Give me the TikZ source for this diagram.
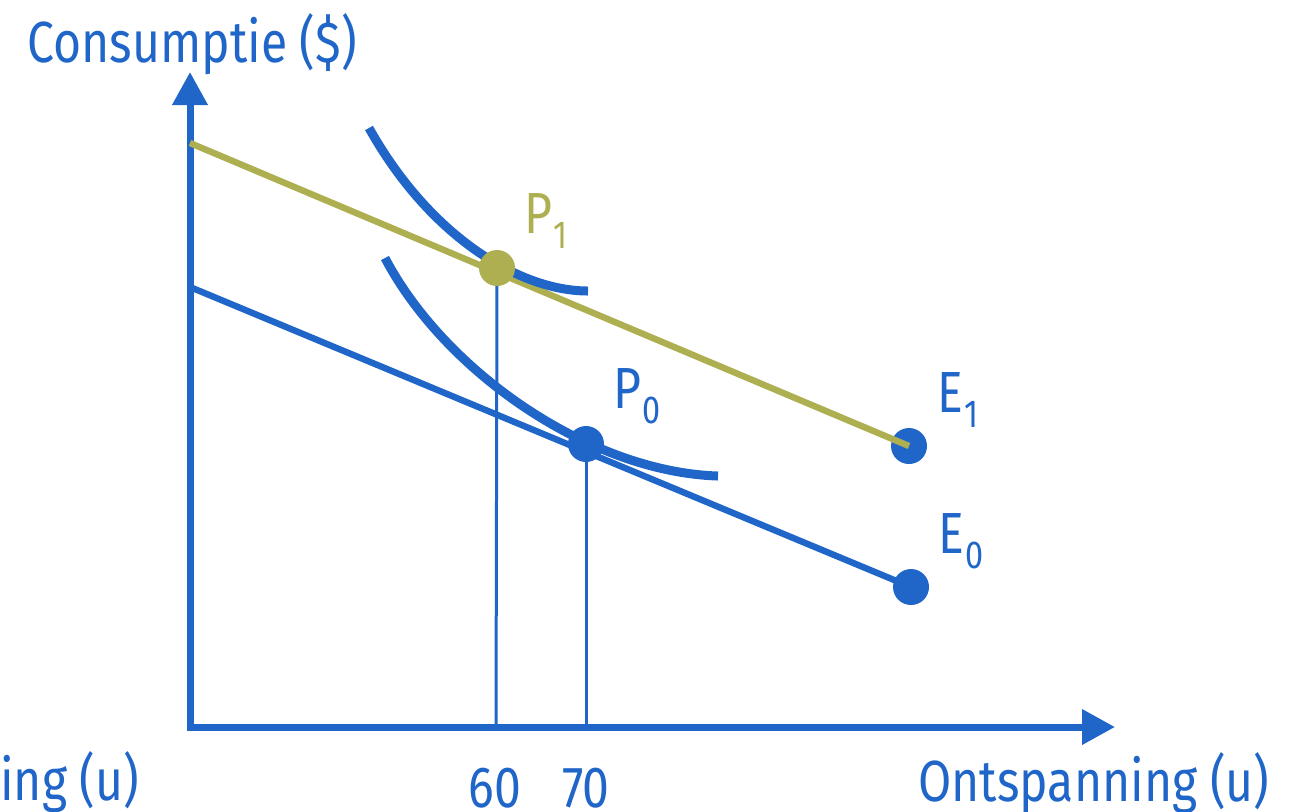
\documentclass[tikz,border=0pt]{standalone}
\usepackage{fontspec}
\setmainfont{Fira Sans}[FakeStretch=0.83]
\usetikzlibrary{arrows.meta}
\definecolor{cblue}{RGB}{32,101,200}
\definecolor{colive}{RGB}{173,175,80}
\newcommand{\lowidx}[1]{\hspace{0.5pt}\raisebox{-7.5pt}{\fontsize{19.5}{19.5}\selectfont #1}}
\tikzset{
  axis/.style={cblue, line width=3.5pt},
  budget/.style={line width=3.2pt},
  indiff/.style={cblue, line width=4.5pt},
  drop/.style={cblue, line width=1.5pt},
  dot/.style={circle, fill=#1, inner sep=0pt, minimum size=18pt},
  lbl/.style={inner sep=0pt, anchor=base west, font=\fontsize{29}{29}\selectfont, text=cblue},
}
\begin{document}
\begin{tikzpicture}[x=0.5pt,y=-0.5pt]
\useasboundingbox (0,0) rectangle (1289,811);
% coordinates
\coordinate (ytip) at (190,72);
\coordinate (origin) at (190,727);
\coordinate (xtip) at (1115,727);
\coordinate (b1) at (190,143);
\coordinate (b0) at (190,287);
\coordinate (f1) at (496,727);
\coordinate (f0) at (586,727);
% dots (positions)
\node[dot=cblue] (E1) at (909,446) {};
\node[dot=cblue] (E0) at (911,587) {};
% axes
\draw[axis, {Triangle[width=17pt,length=16.5pt]}-{Triangle[width=17pt,length=16.5pt]}] (ytip) -- (origin) -- (xtip);
% budget lines
\draw[budget, colive] (b1) -- (E1.center);
\draw[budget, cblue] (b0) -- (E0.center);
% drop lines
\draw[drop] (497,268) -- (f1);
\draw[drop] (586,444) -- (f0);
% indifference curves
\draw[indiff] (369,128) .. controls (430,237) and (520,291) .. (588,291);
\draw[indiff] (385,258) .. controls (445,372) and (590,472) .. (718,476);
% points
\node[dot=colive] (P1) at (497,268) {};
\node[dot=cblue] (P0) at (586,444) {};
% labels
\node[lbl] (ylab) at (27,62) {Consumptie (\$)};
\node[lbl] (xlabl) at (0,800) {ing (u)};
\node[lbl] (xlab) at (918,801) {Ontspanning (u)};
\node[lbl, anchor=base] (t60) at (495,807) {60};
\node[lbl, anchor=base] (t70) at (586,807) {70};
\node[lbl, text=colive] (lP1) at (524,233) {P\lowidx{1}};
\node[lbl] (lP0) at (613,408) {P\lowidx{0}};
\node[lbl] (lE1) at (937,412) {E\lowidx{1}};
\node[lbl] (lE0) at (938,553) {E\lowidx{0}};
\end{tikzpicture}
\end{document}
